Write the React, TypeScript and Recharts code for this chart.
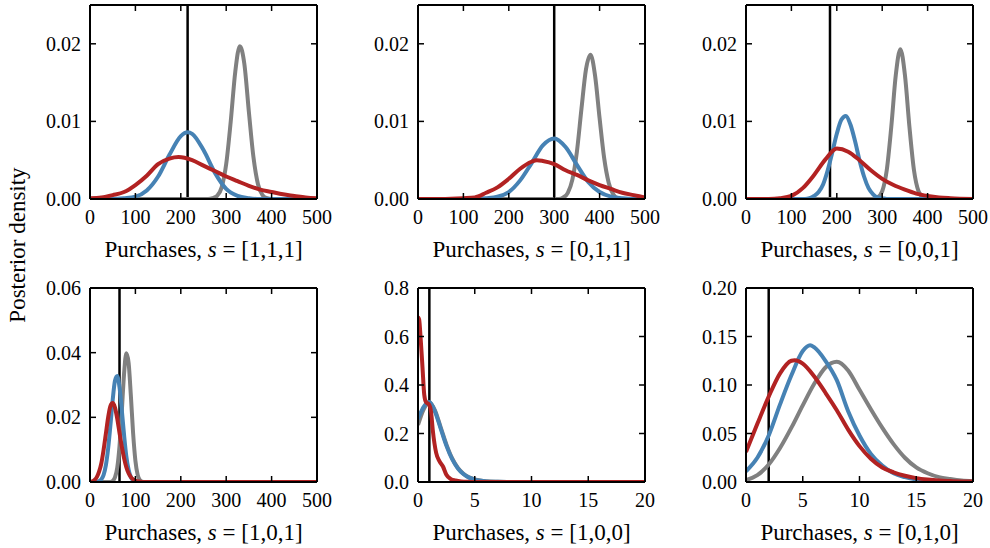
import { Line, LineChart, ReferenceLine, XAxis, YAxis } from "recharts";

// [purchases, posterior density]
const p1Gray = [[0, 0], [260, 0], [270, 0.0001], [280, 0.0004], [290, 0.0015], [300, 0.0045], [310, 0.01], [320, 0.0164], [330, 0.0197], [340, 0.0174], [350, 0.0112], [360, 0.0054], [370, 0.0019], [380, 0.0005], [390, 0.0001], [400, 0], [500, 0]];
const p1Blue = [[0, 0], [50, 0], [75, 0.0001], [100, 0.0003], [125, 0.0011], [150, 0.0029], [175, 0.0057], [200, 0.0081], [215, 0.0086], [225, 0.0084], [250, 0.0063], [275, 0.0034], [300, 0.0013], [325, 0.0004], [350, 0.0001], [375, 0], [500, 0]];
const p1Red = [[0, 0.0001], [25, 0.0002], [50, 0.0005], [75, 0.0009], [100, 0.0018], [125, 0.003], [150, 0.0045], [175, 0.0052], [195, 0.0054], [225, 0.005], [250, 0.0043], [275, 0.0036], [300, 0.0029], [325, 0.0023], [350, 0.0017], [375, 0.0012], [400, 0.0009], [425, 0.0006], [450, 0.0004], [475, 0.0002], [500, 0.0001]];

const p2Gray = [[0, 0], [310, 0], [320, 0.0002], [330, 0.0008], [340, 0.0025], [350, 0.0061], [360, 0.0116], [370, 0.0167], [380, 0.0186], [390, 0.0159], [400, 0.0104], [410, 0.0053], [420, 0.0021], [430, 0.0006], [440, 0.0001], [450, 0], [500, 0]];
const p2Blue = [[0, 0], [125, 0], [150, 0.0001], [175, 0.0003], [200, 0.0009], [225, 0.0024], [250, 0.0046], [275, 0.0069], [300, 0.0078], [325, 0.0067], [350, 0.0044], [375, 0.0022], [400, 0.0009], [425, 0.0003], [450, 0.0001], [475, 0], [500, 0]];
const p2Red = [[0, 0], [50, 0], [100, 0.0001], [125, 0.0002], [150, 0.0008], [175, 0.0015], [200, 0.0026], [225, 0.0039], [250, 0.0048], [262, 0.005], [275, 0.0049], [300, 0.0045], [325, 0.0037], [350, 0.0031], [375, 0.0024], [400, 0.0018], [425, 0.0013], [450, 0.0008], [475, 0.0005], [500, 0.0002]];

const p3Gray = [[0, 0], [280, 0], [290, 0.0002], [300, 0.001], [310, 0.0037], [320, 0.0093], [330, 0.016], [340, 0.0193], [350, 0.016], [360, 0.0093], [370, 0.0037], [380, 0.001], [390, 0.0002], [400, 0], [500, 0]];
const p3Blue = [[0, 0], [130, 0], [140, 0.0001], [150, 0.0004], [160, 0.0009], [170, 0.0019], [180, 0.0037], [190, 0.006], [200, 0.0084], [210, 0.0102], [220, 0.0107], [230, 0.0096], [240, 0.0075], [250, 0.005], [260, 0.0029], [270, 0.0014], [280, 0.0006], [290, 0.0002], [300, 0.0001], [310, 0], [500, 0]];
const p3Red = [[0, 0], [50, 0], [75, 0.0001], [100, 0.0004], [125, 0.0014], [150, 0.0031], [175, 0.0051], [200, 0.0065], [225, 0.0061], [250, 0.005], [275, 0.0037], [300, 0.0026], [325, 0.0018], [350, 0.0012], [375, 0.0007], [400, 0.0004], [425, 0.0002], [450, 0.0001], [500, 0]];

const p4Gray = [[0, 0], [45, 0], [50, 0.0003], [55, 0.0014], [60, 0.0044], [65, 0.0111], [70, 0.0218], [75, 0.0334], [80, 0.0398], [85, 0.0369], [90, 0.0267], [95, 0.015], [100, 0.0066], [105, 0.0022], [110, 0.0006], [115, 0.0001], [120, 0], [500, 0]];
const p4Blue = [[0, 0], [15, 0], [20, 0.0003], [25, 0.0008], [30, 0.0022], [35, 0.0052], [40, 0.0104], [45, 0.0176], [50, 0.0254], [55, 0.0313], [60, 0.0328], [65, 0.0293], [70, 0.0223], [75, 0.0146], [80, 0.008], [85, 0.0038], [90, 0.0015], [95, 0.0005], [100, 0.0001], [105, 0], [500, 0]];
const p4Red = [[0, 0], [5, 0.0002], [10, 0.0006], [15, 0.0015], [20, 0.0032], [25, 0.0058], [30, 0.01], [35, 0.015], [40, 0.02], [45, 0.0235], [50, 0.0244], [55, 0.023], [60, 0.0196], [65, 0.0152], [70, 0.011], [75, 0.0074], [80, 0.0046], [85, 0.0027], [90, 0.0015], [95, 0.0008], [100, 0.0004], [110, 0.0001], [120, 0], [500, 0]];

const p5Gray = [[0, 0.235], [0.5, 0.3], [1, 0.328], [1.5, 0.295], [2, 0.225], [2.5, 0.155], [3, 0.098], [3.5, 0.059], [4, 0.034], [4.5, 0.019], [5, 0.011], [5.5, 0.006], [6, 0.003], [7, 0.001], [8, 0.0003], [9, 0], [20, 0]];
const p5Blue = [[0, 0.26], [0.5, 0.31], [1, 0.33], [1.5, 0.29], [2, 0.22], [2.5, 0.15], [3, 0.095], [3.5, 0.057], [4, 0.033], [4.5, 0.018], [5, 0.01], [5.5, 0.005], [6, 0.0025], [7, 0.0008], [8, 0.0002], [9, 0], [20, 0]];
const p5Red = [[0, 0.68], [0.1, 0.67], [0.25, 0.58], [0.4, 0.47], [0.55, 0.36], [0.7, 0.33], [1, 0.318], [1.15, 0.29], [1.3, 0.215], [1.6, 0.12], [1.9, 0.085], [2.2, 0.064], [2.5, 0.03], [2.9, 0.012], [3.3, 0.006], [3.8, 0.002], [4.5, 0.0005], [5, 0], [20, 0]];

const p6Gray = [[0, 0.002], [1, 0.007], [2, 0.018], [3, 0.035], [4, 0.056], [5, 0.079], [6, 0.101], [7, 0.118], [8, 0.124], [9, 0.115], [10, 0.095], [11, 0.075], [12, 0.056], [13, 0.039], [14, 0.025], [15, 0.015], [16, 0.009], [17, 0.005], [18, 0.003], [19, 0.0015], [20, 0.0008]];
const p6Blue = [[0, 0.011], [1, 0.025], [2, 0.048], [3, 0.08], [4, 0.11], [5, 0.135], [5.65, 0.141], [6, 0.139], [7, 0.125], [8, 0.105], [9, 0.073], [10, 0.048], [11, 0.029], [12, 0.017], [13, 0.009], [14, 0.005], [15, 0.0025], [16, 0.0012], [17, 0.0006], [18, 0.0003], [19, 0.0001], [20, 0]];
const p6Red = [[0, 0.031], [1, 0.06], [2, 0.088], [3, 0.112], [4, 0.125], [4.3, 0.1255], [5, 0.122], [6, 0.109], [7, 0.092], [8, 0.074], [9, 0.054], [10, 0.037], [11, 0.024], [12, 0.015], [13, 0.01], [14, 0.0065], [15, 0.004], [16, 0.0025], [17, 0.0015], [18, 0.001], [19, 0.0006], [20, 0.0004]];

const tags = ["[1,1,1]", "[0,1,1]", "[0,0,1]", "[1,0,1]", "[1,0,0]", "[0,1,0]"];
const observed = [215, 300, 185, 65, 1, 2];
const xMax = [500, 500, 500, 500, 20, 20];
const xTicksWide = [0, 100, 200, 300, 400, 500];
const xTicksNarrow = [0, 5, 10, 15, 20];
const yMax = [0.025, 0.025, 0.025, 0.06, 0.8, 0.2];
const yTicks = [
  [0, 0.01, 0.02],
  [0, 0.01, 0.02],
  [0, 0.01, 0.02],
  [0, 0.02, 0.04, 0.06],
  [0, 0.2, 0.4, 0.6, 0.8],
  [0, 0.05, 0.1, 0.15, 0.2],
];
const yDigits = [2, 2, 2, 2, 1, 2];
const grays = [p1Gray, p2Gray, p3Gray, p4Gray, p5Gray, p6Gray];
const blues = [p1Blue, p2Blue, p3Blue, p4Blue, p5Blue, p6Blue];
const reds = [p1Red, p2Red, p3Red, p4Red, p5Red, p6Red];

const FONT = "'Liberation Serif', 'DejaVu Serif', serif";
const FS = 20;
const TICK = 6;
const ML = 80;
const MR = 24;
const MT = 16;
const MB = 75;
const PW = 227;
const PH = 194;
const colLeft = [90, 418, 746];
const rowTop = [5, 288];

const toPts = (arr: number[][]) => arr.map(([x, y]) => ({ x, y }));

// ticks point into the plot on all four sides, matplotlib style
function BottomTick({ x, y, payload }: any) {
  return (
    <g>
      <line x1={x} x2={x} y1={y} y2={y - TICK} stroke="#000" strokeWidth={1.5} />
      <text x={x} y={y + 24.5} textAnchor="middle" fontFamily={FONT} fontSize={FS} fill="#000">
        {payload.value}
      </text>
    </g>
  );
}

function TopTick({ x, y }: any) {
  return <line x1={x} x2={x} y1={y} y2={y + TICK} stroke="#000" strokeWidth={1.5} />;
}

function LeftTick({ x, y, payload, digits }: any) {
  return (
    <g>
      <line x1={x} x2={x + TICK} y1={y} y2={y} stroke="#000" strokeWidth={1.5} />
      <text x={x - 9} y={y} dy="0.35em" textAnchor="end" fontFamily={FONT} fontSize={FS} fill="#000">
        {Number(payload.value).toFixed(digits)}
      </text>
    </g>
  );
}

function RightTick({ x, y }: any) {
  return <line x1={x} x2={x - TICK} y1={y} y2={y} stroke="#000" strokeWidth={1.5} />;
}

function XTitle({ viewBox, tag }: any) {
  const { x, y, width } = viewBox;
  return (
    <text x={x + width / 2} y={y + 58} textAnchor="middle" fontFamily={FONT} fontSize={23} fill="#000">
      Purchases, <tspan fontStyle="italic">s</tspan> = {tag}
    </text>
  );
}

function Panel({ i }: { i: number }) {
  const left = colLeft[i % 3];
  const top = rowTop[Math.floor(i / 3)];
  const xt = xMax[i] === 500 ? xTicksWide : xTicksNarrow;
  const frame = { stroke: "#000", strokeWidth: 2 };
  const line = { xAxisId: "b", yAxisId: "l", dataKey: "y", dot: false, strokeWidth: 4, type: "monotone" as const, isAnimationActive: false };
  return (
    <div style={{ position: "absolute", left: left - ML, top: top - MT }}>
      <LineChart width={ML + PW + MR} height={MT + PH + MB} margin={{ top: MT - 1, right: MR - 1, bottom: 0, left: 0 }}>
        <XAxis
          xAxisId="b"
          dataKey="x"
          type="number"
          domain={[0, xMax[i]]}
          ticks={xt}
          allowDataOverflow
          height={MB}
          axisLine={frame}
          tickLine={false}
          tickSize={0}
          tickMargin={0}
          tick={(p: any) => <BottomTick {...p} />}
          label={(props: any) => <XTitle viewBox={props.viewBox} tag={tags[i]} />}
        />
        <XAxis
          xAxisId="t"
          dataKey="x"
          type="number"
          orientation="top"
          domain={[0, xMax[i]]}
          ticks={xt}
          allowDataOverflow
          height={1}
          axisLine={frame}
          tickLine={false}
          tickSize={0}
          tickMargin={0}
          tick={(p: any) => <TopTick {...p} />}
        />
        <YAxis
          yAxisId="l"
          type="number"
          domain={[0, yMax[i]]}
          ticks={yTicks[i]}
          allowDataOverflow
          width={ML}
          axisLine={frame}
          tickLine={false}
          tickSize={0}
          tickMargin={0}
          tick={(p: any) => <LeftTick {...p} digits={yDigits[i]} />}
        />
        <YAxis
          yAxisId="r"
          type="number"
          orientation="right"
          domain={[0, yMax[i]]}
          ticks={yTicks[i]}
          allowDataOverflow
          width={1}
          axisLine={frame}
          tickLine={false}
          tickSize={0}
          tickMargin={0}
          tick={(p: any) => <RightTick {...p} />}
        />
        <ReferenceLine xAxisId="b" yAxisId="l" x={observed[i]} stroke="#000" strokeWidth={2.5} />
        <Line {...line} data={toPts(grays[i])} stroke="#808080" />
        <Line {...line} data={toPts(blues[i])} stroke="#4682b4" />
        <Line {...line} data={toPts(reds[i])} stroke="#b22222" />
      </LineChart>
    </div>
  );
}

export default function App() {
  return (
    <div style={{ position: "absolute", left: 0, top: 0, width: 990, height: 548, background: "#fff", fontFamily: FONT, overflow: "hidden" }}>
      {[0, 1, 2, 3, 4, 5].map((i) => (
        <Panel key={i} i={i} />
      ))}
      <div
        style={{
          position: "absolute",
          left: 18,
          top: 245,
          transform: "translate(-50%, -50%) rotate(-90deg)",
          whiteSpace: "nowrap",
          fontSize: 23,
          color: "#000",
        }}
      >
        Posterior density
      </div>
    </div>
  );
}
